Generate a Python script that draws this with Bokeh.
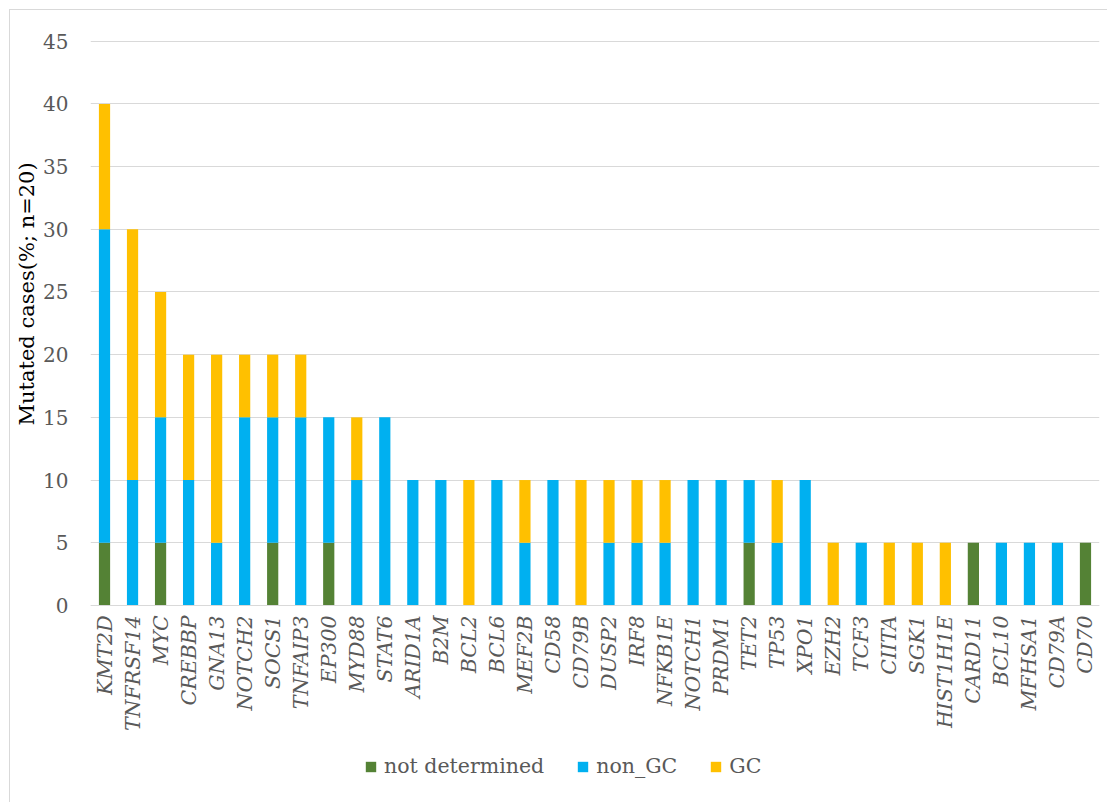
import math
from bokeh.plotting import figure
from bokeh.models import (FactorRange, Range1d, Legend, LegendItem, Title,
                          ColumnDataSource, FixedTicker)
from bokeh.embed import file_html
from bokeh.resources import INLINE

genes = ["KMT2D", "TNFRSF14", "MYC", "CREBBP", "GNA13", "NOTCH2", "SOCS1", "TNFAIP3",
         "EP300", "MYD88", "STAT6", "ARID1A", "B2M", "BCL2", "BCL6", "MEF2B", "CD58",
         "CD79B", "DUSP2", "IRF8", "NFKB1E", "NOTCH1", "PRDM1", "TET2", "TP53", "XPO1",
         "EZH2", "TCF3", "CIITA", "SGK1", "HIST1H1E", "CARD11", "BCL10", "MFHSA1",
         "CD79A", "CD70"]
not_determined = [5, 0, 5, 0, 0, 0, 5, 0, 5, 0, 0, 0, 0, 0, 0, 0, 0, 0, 0, 0, 0, 0, 0, 5, 0, 0,
                  0, 0, 0, 0, 0, 5, 0, 0, 0, 5]
non_gc = [25, 10, 10, 10, 5, 15, 10, 15, 10, 10, 15, 10, 10, 0, 10, 5, 10, 0, 5, 5, 5, 10, 10, 5, 5, 10,
          0, 5, 0, 0, 0, 0, 5, 5, 5, 0]
gc = [10, 20, 10, 10, 15, 5, 5, 5, 0, 5, 0, 0, 0, 10, 0, 5, 0, 10, 5, 5, 5, 0, 0, 0, 5, 0,
      5, 0, 5, 5, 5, 0, 0, 0, 0, 0]
series = ["not determined", "non_GC", "GC"]
colors = ["#548235", "#00B0F0", "#FFC000"]
y_ticks = [0, 5, 10, 15, 20, 25, 30, 35, 40, 45]
y_label = "Mutated cases(%; n=20)"

FONT = "DejaVu Serif"
GRAY = "#595959"

src = ColumnDataSource(dict(gene=genes, nd=not_determined, ngc=non_gc, gc=gc))

p = figure(x_range=FactorRange(factors=genes, range_padding=0), y_range=Range1d(-15.8, 45.3),
           width=1098, height=793, output_backend="svg", toolbar_location=None,
           min_border_left=80, min_border_right=9, min_border_top=27, min_border_bottom=0,
           styles={"margin-left": "9px", "margin-top": "9px",
                   "border-left": "1px solid #d9d9d9", "border-top": "1px solid #d9d9d9"})
p.outline_line_color = None
p.background_fill_color = "white"
p.border_fill_color = "white"

rs = p.vbar_stack(["nd", "ngc", "gc"], x="gene", width=0.4, color=colors, source=src,
                  line_color=None)

p.xgrid.grid_line_color = None
p.ygrid.grid_line_color = "#d9d9d9"
p.ygrid.grid_line_width = 1.2

p.yaxis.ticker = FixedTicker(ticks=y_ticks)
p.yaxis.axis_line_color = None
p.yaxis.major_tick_line_color = None
p.yaxis.minor_tick_line_color = None
p.yaxis.major_tick_out = 0
p.yaxis.major_tick_in = 0
p.yaxis.major_label_standoff = 22
p.yaxis.major_label_text_font = FONT
p.yaxis.major_label_text_font_size = "20px"
p.yaxis.major_label_text_color = GRAY

ytitle = Title(text=y_label, align="left", offset=378, standoff=3,
               text_font=FONT, text_font_size="21px", text_font_style="normal",
               text_color="black")
p.add_layout(ytitle, "left")

p.xaxis.fixed_location = 0
p.xaxis.axis_line_color = "#d9d9d9"
p.xaxis.axis_line_width = 1.2
p.xaxis.major_tick_line_color = None
p.xaxis.major_tick_out = 0
p.xaxis.major_tick_in = 0
p.xaxis.major_label_standoff = 10
p.xaxis.major_label_orientation = math.pi / 2
p.xaxis.major_label_text_font = FONT
p.xaxis.major_label_text_font_style = "italic"
p.xaxis.major_label_text_font_size = "20.5px"
p.xaxis.major_label_text_color = GRAY

legend = Legend(items=[LegendItem(label=s, renderers=[r]) for s, r in zip(series, rs)],
                orientation="horizontal", location=(274, 25))
legend.border_line_color = None
legend.background_fill_alpha = 0
legend.padding = 0
legend.margin = 0
legend.spacing = 32
legend.glyph_width = 13
legend.glyph_height = 13
legend.label_standoff = 7
legend.label_text_font = FONT
legend.label_text_font_size = "20.5px"
legend.label_text_color = GRAY
p.add_layout(legend)

open("out.html", "w").write(file_html(p, INLINE))
